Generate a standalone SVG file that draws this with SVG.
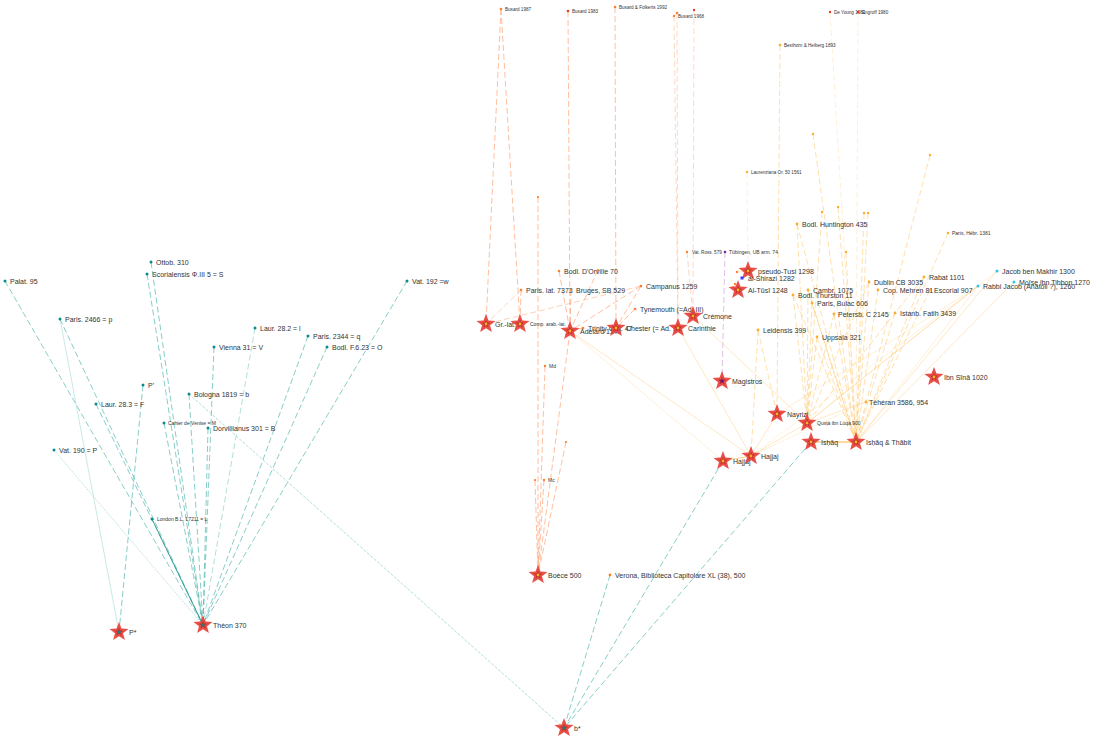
<svg xmlns="http://www.w3.org/2000/svg" xmlns:xlink="http://www.w3.org/1999/xlink" width="1096" height="742" viewBox="0 0 1096 742">
<style>
text{font-family:"Liberation Sans",Arial,sans-serif;font-size:7px;fill:#333}
text.s{font-size:5px}
text.xs{font-size:4.6px}
line{fill:none}
.tl{stroke:#3fb0a9;stroke-width:.9;stroke-dasharray:6 3;opacity:.7}
.tls{stroke:#a9dcd8;stroke-width:.8;opacity:.8}
.tld{stroke:#8dd0cb;stroke-width:.7;stroke-dasharray:1.5 1.5}
.tldk{stroke:#2e9a94;stroke-width:.9}
.sl{stroke:#ffa070;stroke-width:.9;stroke-dasharray:6 3;opacity:.75}
.yl{stroke:#ffc566;stroke-width:.9;stroke-dasharray:6 3;opacity:.6}
.ys{stroke:#ffc870;stroke-width:.7;opacity:.6}
.pl{stroke:#e3bfe8;stroke-width:1;stroke-dasharray:6 3}
.dt{fill:#0a8a8a}.do{fill:#ff7f2a}.dy{fill:#ffab2e}.dc{fill:#2fc4ec}.dp{fill:#8a1fa0}.db{fill:#3a3aff}.dr{fill:#e53a2a}
</style>
<defs>
<path id="st" d="M0,-10 L2.47,-3.4 L9.51,-3.09 L4,1.3 L5.88,8.09 L0,4.2 L-5.88,8.09 L-4,1.3 L-9.51,-3.09 L-2.47,-3.4 Z" fill="#e8463e" opacity=".95"/>
<path id="sti" d="M0,-3.8 L.94,-1.29 L3.61,-1.17 L1.52,.49 L2.23,3.07 L0,1.6 L-2.23,3.07 L-1.52,.49 L-3.61,-1.17 L-.94,-1.29 Z" fill="#c0362c" stroke="#a52a22" stroke-width=".3"/>
<g id="starO"><use xlink:href="#st"/><use xlink:href="#sti"/><circle r="1.4" fill="#ffb020"/></g>
<g id="starT"><use xlink:href="#st"/><use xlink:href="#sti"/><circle r="1.6" fill="#1e8080"/></g>
<g id="starP"><use xlink:href="#st"/><use xlink:href="#sti"/><circle r="1.6" fill="#6a1090"/></g>
</defs>
<rect width="1096" height="742" fill="#fff"/>
<g id="connectors">
<line class="tl" x1="5" y1="281" x2="203" y2="625"/>
<line class="tl" x1="151" y1="262" x2="203" y2="625"/>
<line class="tl" x1="147" y1="274" x2="203" y2="625"/>
<line class="tl" x1="60" y1="319" x2="203" y2="625"/>
<line class="tl" x1="96" y1="404" x2="203" y2="625"/>
<line class="tl" x1="214" y1="347" x2="203" y2="625"/>
<line class="tl" x1="255" y1="328" x2="203" y2="625" style="opacity:.45"/>
<line class="tl" x1="308" y1="336" x2="203" y2="625"/>
<line class="tl" x1="327" y1="347" x2="203" y2="625"/>
<line class="tl" x1="407" y1="281" x2="203" y2="625"/>
<line class="tl" x1="189" y1="394" x2="203" y2="625"/>
<line class="tl" x1="164" y1="423" x2="203" y2="625"/>
<line class="tl" x1="208" y1="428" x2="203" y2="625"/>
<line class="tld" x1="54" y1="450" x2="203" y2="625"/>
<line class="tldk" x1="152" y1="519" x2="203" y2="625"/>
<line class="tl" x1="143" y1="385" x2="119" y2="632"/>
<line class="tls" x1="60" y1="319" x2="119" y2="632"/>
<line class="tld" x1="189" y1="394" x2="564" y2="728" style="stroke-dasharray:3 1.5"/>
<line class="tl" x1="610" y1="575" x2="564" y2="728"/>
<line class="tl" x1="723" y1="461" x2="564" y2="728"/>
<line class="tl" x1="811" y1="442" x2="564" y2="728"/>
<line class="sl" x1="501" y1="9" x2="486" y2="324"/>
<line class="sl" x1="501" y1="9" x2="520" y2="324"/>
<line class="sl" x1="568" y1="11" x2="570" y2="331"/>
<line class="sl" x1="615" y1="7" x2="616" y2="328"/>
<line class="sl" x1="674" y1="16" x2="678" y2="328" style="opacity:.45"/>
<line class="sl" x1="677" y1="13" x2="678" y2="328" style="opacity:.45"/>
<line class="sl" x1="694" y1="10" x2="693" y2="316" style="opacity:.45"/>
<line class="sl" x1="538" y1="197" x2="538" y2="575"/>
<line class="sl" x1="545" y1="366" x2="538" y2="575"/>
<line class="sl" x1="566" y1="442" x2="538" y2="575"/>
<line class="sl" x1="544" y1="480" x2="538" y2="575"/>
<line class="sl" x1="535" y1="480" x2="538" y2="575"/>
<line class="sl" x1="570" y1="331" x2="538" y2="575"/>
<line class="sl" x1="521" y1="290" x2="486" y2="324" style="opacity:.5"/>
<line class="sl" x1="521" y1="290" x2="520" y2="324"/>
<line class="sl" x1="559" y1="271" x2="570" y2="331"/>
<line class="sl" x1="598" y1="270" x2="570" y2="331"/>
<line class="sl" x1="571" y1="290" x2="570" y2="331"/>
<line class="sl" x1="641" y1="286" x2="486" y2="324" style="opacity:.55"/>
<line class="sl" x1="641" y1="286" x2="570" y2="331"/>
<line class="sl" x1="641" y1="286" x2="616" y2="328"/>
<line class="sl" x1="635" y1="309" x2="616" y2="328"/>
<line class="sl" x1="583" y1="328" x2="570" y2="331"/>
<line class="sl" x1="687" y1="252" x2="693" y2="316" style="opacity:.5"/>
<line class="pl" x1="725" y1="252" x2="722" y2="381"/>
<line class="yl" x1="747" y1="172" x2="748" y2="271" style="opacity:.3"/>
<line class="ys" x1="570" y1="331" x2="751" y2="456"/>
<line class="ys" x1="570" y1="331" x2="723" y2="461" style="opacity:.4"/>
<line class="ys" x1="678" y1="328" x2="751" y2="456"/>
<line class="ys" x1="693" y1="316" x2="807" y2="423"/>
<line class="ys" x1="723" y1="461" x2="751" y2="456" style="stroke-width:1.2;opacity:.9"/>
<line class="ys" x1="811" y1="442" x2="856" y2="442" style="stroke:#ffa820;stroke-width:1.2;opacity:.9"/>
<line class="ys" x1="866" y1="402" x2="807" y2="423"/>
<line class="ys" x1="751" y1="456" x2="777" y2="414"/>
<line class="ys" x1="751" y1="456" x2="807" y2="423"/>
<line class="ys" x1="751" y1="456" x2="978" y2="286" style="opacity:.35"/>
<line class="ys" x1="751" y1="456" x2="866" y2="402" style="opacity:.35"/>
<line class="ys" x1="997" y1="271" x2="856" y2="442"/>
<line class="ys" x1="997" y1="271" x2="807" y2="423" style="opacity:.4"/>
<line class="ys" x1="1014" y1="282" x2="856" y2="442"/>
<line class="ys" x1="978" y1="286" x2="807" y2="423"/>
<line class="ys" x1="978" y1="286" x2="777" y2="414" style="opacity:.4"/>
<line class="ys" x1="978" y1="286" x2="856" y2="442" style="opacity:.4"/>
<line class="ys" x1="737" y1="272" x2="748" y2="271"/>
<line class="ys" x1="735" y1="284" x2="738" y2="290"/>
<line class="yl" x1="780" y1="45" x2="777" y2="414"/>
<line class="yl" x1="830" y1="12" x2="856" y2="442" style="opacity:.3"/>
<line class="yl" x1="858" y1="12" x2="856" y2="442" style="opacity:.3"/>
<line class="yl" x1="813" y1="134" x2="856" y2="442"/>
<line class="yl" x1="930" y1="155" x2="856" y2="442"/>
<line class="yl" x1="838" y1="207" x2="856" y2="442"/>
<line class="yl" x1="822" y1="212" x2="807" y2="423"/>
<line class="yl" x1="864" y1="213" x2="856" y2="442"/>
<line class="yl" x1="868" y1="213" x2="856" y2="442"/>
<line class="yl" x1="846" y1="252" x2="856" y2="442"/>
<line class="yl" x1="797" y1="224" x2="856" y2="442"/>
<line class="yl" x1="797" y1="224" x2="807" y2="423"/>
<line class="yl" x1="948" y1="233" x2="856" y2="442"/>
<line class="yl" x1="924" y1="277" x2="856" y2="442"/>
<line class="yl" x1="924" y1="277" x2="807" y2="423"/>
<line class="yl" x1="869" y1="282" x2="856" y2="442"/>
<line class="yl" x1="869" y1="282" x2="807" y2="423"/>
<line class="yl" x1="878" y1="290" x2="856" y2="442"/>
<line class="yl" x1="930" y1="290" x2="856" y2="442"/>
<line class="yl" x1="808" y1="290" x2="807" y2="423"/>
<line class="yl" x1="808" y1="290" x2="856" y2="442"/>
<line class="yl" x1="793" y1="295" x2="807" y2="423"/>
<line class="yl" x1="793" y1="295" x2="856" y2="442"/>
<line class="yl" x1="812" y1="303" x2="807" y2="423"/>
<line class="yl" x1="812" y1="303" x2="856" y2="442"/>
<line class="yl" x1="834" y1="314" x2="856" y2="442"/>
<line class="yl" x1="834" y1="314" x2="807" y2="423"/>
<line class="yl" x1="895" y1="313" x2="856" y2="442"/>
<line class="yl" x1="817" y1="337" x2="807" y2="423"/>
<line class="yl" x1="817" y1="337" x2="856" y2="442"/>
<line class="yl" x1="758" y1="330" x2="751" y2="456"/>
<line class="yl" x1="758" y1="330" x2="777" y2="414"/>
</g>
<g id="palat"><circle class="dt" cx="5" cy="281" r="1.5"/><text x="10" y="283.5">Palat. 95</text></g>
<g id="ottob"><circle class="dt" cx="151" cy="262" r="1.5"/><text x="156" y="264.5">Ottob. 310</text></g>
<g id="scorial"><circle class="dt" cx="147" cy="274" r="1.5"/><text x="152" y="276.5">Scorialensis Φ.III 5 = S</text></g>
<g id="paris2466"><circle class="dt" cx="60" cy="319" r="1.5"/><text x="65" y="321.5">Paris. 2466 = p</text></g>
<g id="laur282"><circle class="dt" cx="255" cy="328" r="1.5"/><text x="260" y="330.5">Laur. 28.2 = l</text></g>
<g id="paris2344"><circle class="dt" cx="308" cy="336" r="1.5"/><text x="313" y="338.5">Paris. 2344 = q</text></g>
<g id="vienna"><circle class="dt" cx="214" cy="347" r="1.5"/><text x="219" y="349.5">Vienna 31 = V</text></g>
<g id="bodlf"><circle class="dt" cx="327" cy="347" r="1.5"/><text x="332" y="349.5">Bodl. F.6.23 = O</text></g>
<g id="vat192"><circle class="dt" cx="407" cy="281" r="1.5"/><text x="412" y="283.5">Vat. 192 =w</text></g>
<g id="pprime"><circle class="dt" cx="143" cy="385" r="1.5"/><text x="148" y="387.5">P'</text></g>
<g id="laur283"><circle class="dt" cx="96" cy="404" r="1.5"/><text x="101" y="406.5">Laur. 28.3 = F</text></g>
<g id="bologna"><circle class="dt" cx="189" cy="394" r="1.5"/><text x="194" y="396.5">Bologna 1819 = b</text></g>
<g id="cahier"><circle class="dt" cx="164" cy="423" r="1.5"/><text class="s" x="168" y="424.8">Cahier de Venise = M</text></g>
<g id="dorv"><circle class="dt" cx="208" cy="428" r="1.5"/><text x="213" y="430.5">Dorvillianus 301 = B</text></g>
<g id="vat190"><circle class="dt" cx="54" cy="450" r="1.5"/><text x="59" y="452.5">Vat. 190 = P</text></g>
<g id="london"><circle class="dt" cx="152" cy="519" r="1.5"/><text class="s" x="157" y="520.8">London B.L. 17211 = L</text></g>
<g id="busard87"><circle class="do" cx="501" cy="9" r="1.3"/><text class="xs" x="505" y="10.5">Busard 1987</text></g>
<g id="busard83"><circle class="dr" cx="568" cy="11" r="1.3"/><text class="xs" x="572" y="12.5">Busard 1983</text></g>
<g id="busardf"><circle class="do" cx="615" cy="7" r="1.3"/><text class="xs" x="619" y="8.5">Busard &amp; Folkerts 1992</text></g>
<g id="busard68"><circle class="do" cx="677" cy="13" r="1.3"/><circle class="do" cx="674" cy="16" r="1.2"/><text class="xs" x="678" y="17.5">Busard 1968</text></g>
<g id="d694"><circle class="dr" cx="694" cy="10" r="1.2"/></g>
<g id="dorville"><circle class="do" cx="559" cy="271" r="1.3"/><circle class="do" cx="598" cy="270" r="1.1"/><text x="564" y="273.5">Bodl. D'Orville 70</text></g>
<g id="parislat"><circle class="do" cx="521" cy="290" r="1.3"/><text x="526" y="292.5">Paris. lat. 7373</text></g>
<g id="bruges"><circle class="do" cx="571" cy="290" r="1.3"/><text x="576" y="292.5">Bruges, SB 529</text></g>
<g id="campanus"><circle class="do" cx="641" cy="286" r="1.3"/><text x="646" y="288.5">Campanus 1259</text></g>
<g id="tynemouth"><circle class="do" cx="635" cy="309" r="1.3"/><text x="640" y="311.5">Tynemouth (=Ad. III)</text></g>
<g id="d538"><circle class="do" cx="538" cy="197" r="1.1"/></g>
<g id="md"><circle class="do" cx="545" cy="366" r="1.2"/><text class="s" x="549" y="367.8">Md</text></g>
<g id="d566"><circle class="do" cx="566" cy="442" r="1.1"/></g>
<g id="mc"><circle class="do" cx="544" cy="480" r="1.2"/><circle class="do" cx="535" cy="480" r="1.1"/><text class="s" x="548" y="481.8">Mc</text></g>
<g id="verona"><circle class="do" cx="610" cy="575" r="1.4"/><text x="615" y="577.5">Verona, Biblioteca Capitolare XL (38), 500</text></g>
<g id="vatross"><circle class="do" cx="687" cy="252" r="1.2"/><text class="xs" x="692" y="253.5">Vat. Ross. 579</text></g>
<g id="tubingen"><circle class="dp" cx="725" cy="252" r="1.3"/><text class="s" x="729" y="253.8">Tübingen, UB arm. 74</text></g>
<g id="laurenz"><circle class="dy" cx="747" cy="172" r="1.2"/><text class="xs" x="751" y="173.5">Laurenziana Or. 50 1561</text></g>
<g id="besthorn"><circle class="dy" cx="780" cy="45" r="1.3"/><text class="xs" x="784" y="46.5">Besthorn &amp; Heiberg 1893</text></g>
<g id="deyoung"><circle class="dr" cx="830" cy="12" r="1.2"/><text class="xs" x="834" y="13.5">De Young 1981</text></g>
<g id="engroff"><circle class="dr" cx="858" cy="12" r="1.2"/><text class="xs" x="862" y="14">Engroff 1980</text></g>
<g id="ad1"><circle class="dy" cx="813" cy="134" r="1.2"/><circle class="dy" cx="930" cy="155" r="1.2"/><circle class="dy" cx="838" cy="207" r="1.2"/><circle class="dy" cx="822" cy="212" r="1.2"/><circle class="dy" cx="864" cy="213" r="1.2"/><circle class="dy" cx="868" cy="213" r="1.2"/><circle class="dy" cx="846" cy="252" r="1.2"/><circle class="do" cx="737" cy="272" r="1.2"/><circle class="do" cx="735" cy="284" r="1.2"/><circle class="do" cx="733" cy="287" r="1.1"/></g>
<g id="bodlhunt"><circle class="dy" cx="797" cy="224" r="1.4"/><text x="802" y="226.5">Bodl. Huntington 435</text></g>
<g id="parishebr"><circle class="dy" cx="948" cy="233" r="1.3"/><text class="s" x="952" y="234.8">Paris, Hébr. 1381</text></g>
<g id="rabat"><circle class="dy" cx="924" cy="277" r="1.4"/><text x="929" y="279.5">Rabat 1101</text></g>
<g id="dublin"><circle class="dy" cx="869" cy="282" r="1.4"/><text x="874" y="284.5">Dublin CB 3035</text></g>
<g id="cop"><circle class="dy" cx="878" cy="290" r="1.4"/><text x="883" y="292.5">Cop. Mehren 81</text></g>
<g id="escorial"><circle class="dy" cx="930" cy="290" r="1.2"/><text x="934" y="292.5">Escorial 907</text></g>
<g id="cambr"><circle class="dy" cx="808" cy="290" r="1.4"/><text x="813" y="292.5">Cambr. 1075</text></g>
<g id="thurston"><circle class="dy" cx="793" cy="295" r="1.4"/><text x="798" y="297.5">Bodl. Thurston 11</text></g>
<g id="bulac"><circle class="dy" cx="812" cy="303" r="1.4"/><text x="817" y="305.5">Paris, Bulac 606</text></g>
<g id="petersb"><circle class="dy" cx="834" cy="314" r="1.4"/><text x="838" y="316.5">Petersb. C 2145</text></g>
<g id="istanb"><circle class="dy" cx="895" cy="313" r="1.4"/><text x="900" y="315.5">Istanb. Fatih 3439</text></g>
<g id="uppsala"><circle class="dy" cx="817" cy="337" r="1.4"/><text x="822" y="339.5">Uppsala 321</text></g>
<g id="leidensis"><circle class="dy" cx="758" cy="330" r="1.4"/><text x="763" y="332.5">Leidensis 399</text></g>
<g id="teheran"><circle class="dy" cx="866" cy="402" r="1.4"/><text x="869" y="404.5">Téhéran 3586, 954</text></g>
<g id="jacob"><circle class="dc" cx="997" cy="271" r="1.5"/><text x="1002" y="273.5">Jacob ben Makhir 1300</text></g>
<g id="moise"><circle class="dc" cx="1014" cy="282" r="1.5"/><text x="1019" y="284.5">Moïse ibn Tibbon 1270</text></g>
<g id="rabbi"><circle class="dc" cx="978" cy="286" r="1.5"/><text x="983" y="288.5">Rabbi Jacob (Anatoli ?), 1260</text></g>
<g id="theon"><use xlink:href="#starT" x="203" y="625"/><text x="213" y="627.5">Théon 370</text></g>
<g id="pstar"><use xlink:href="#starT" x="119" y="632"/><text x="129" y="634.5">P*</text></g>
<g id="bstar"><use xlink:href="#starT" x="564" y="728"/><text x="574" y="730.5">b*</text></g>
<g id="boece"><use xlink:href="#starO" x="538" y="575"/><text x="548" y="577.5">Boèce 500</text></g>
<g id="grlat"><use xlink:href="#starO" x="486" y="324"/><text x="495" y="326.5">Gr.-lat.</text></g>
<g id="comp"><use xlink:href="#starO" x="520" y="324"/><text class="s" x="530" y="325.8">Comp. arab.-lat.</text></g>
<g id="adelard"><use xlink:href="#starO" x="570" y="331"/><text x="580" y="333.5">Adelard 1140</text></g>
<g id="trinity"><circle class="do" cx="583" cy="328" r="1.3"/><text x="588" y="330.5">Trinity Coll. 47</text></g>
<g id="chester"><use xlink:href="#starO" x="616" y="328"/><text x="626" y="330.5">Chester (= Ad. III)</text></g>
<g id="carinthie"><use xlink:href="#starO" x="678" y="328"/><text x="688" y="330.5">Carinthie</text></g>
<g id="cremone"><use xlink:href="#starO" x="693" y="316"/><text x="703" y="318.5">Crémone</text></g>
<g id="pstusi"><use xlink:href="#starO" x="748" y="271"/><text x="758" y="273.5">pseudo-Tusi 1298</text></g>
<g id="shirazi"><rect class="db" x="740.5" y="276.5" width="3" height="3"/><text x="748" y="280.5">al-Shirazi 1282</text></g>
<g id="altusi"><use xlink:href="#starO" x="738" y="290"/><text x="748" y="292.5">Al-Tūsī 1248</text></g>
<g id="magistros"><use xlink:href="#starP" x="722" y="381"/><text x="732" y="383.5">Magistros</text></g>
<g id="nayrizi"><use xlink:href="#starO" x="777" y="414"/><text x="787" y="416.5">Nayrizi</text></g>
<g id="qusta"><use xlink:href="#starO" x="807" y="423"/><text class="s" x="817" y="424.8">Qusṭā ibn Lūqā 900</text></g>
<g id="ishaq"><use xlink:href="#starO" x="811" y="442"/><text x="821" y="444.5">Isḥāq</text></g>
<g id="ishaqthabit"><use xlink:href="#starO" x="856" y="442"/><text x="866" y="444.5">Isḥāq &amp; Thābit</text></g>
<g id="hajjaj1"><use xlink:href="#starO" x="723" y="461"/><text x="733" y="463.5">Hajjaj</text></g>
<g id="hajjaj2"><use xlink:href="#starO" x="751" y="456"/><text x="761" y="458.5">Hajjaj</text></g>
<g id="ibnsina"><use xlink:href="#starO" x="934" y="377"/><text x="944" y="379.5">Ibn Sīnā 1020</text></g>
</svg>
